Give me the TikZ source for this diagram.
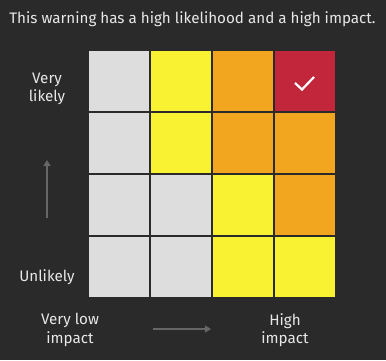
\documentclass[tikz,border=0pt]{standalone}
\usepackage{fontspec}
\setmainfont{Fira Sans}
\usetikzlibrary{arrows.meta}
\definecolor{bg}{HTML}{2A2A2A}
\definecolor{cgrey}{HTML}{DDDDDD}
\definecolor{cyel}{HTML}{F9F232}
\definecolor{corg}{HTML}{F2A51F}
\definecolor{cred}{HTML}{C1263A}
\definecolor{txt}{HTML}{E8E8E8}
\definecolor{arr}{HTML}{666666}
\tikzset{
  cell/.style={minimum width=60pt,minimum height=60pt,inner sep=0pt,draw=none,anchor=north west},
  lab/.style={text=txt,font=\fontsize{15.2}{18.5}\selectfont,align=center,inner sep=0pt},
  axarrow/.style={draw=arr,line width=1.3pt,-{Triangle[length=6pt,width=7pt]}}
}
\begin{document}
\begin{tikzpicture}[x=1pt,y=-1pt]
\fill[bg] (0,0) rectangle (386,360);
\useasboundingbox (0,0) rectangle (386,360);
\node[lab] (title) at (192.5,19) {This warning has a high likelihood and a high impact.};
% row 1
\node[cell,fill=cgrey] (c11) at (89,51) {};
\node[cell,fill=cyel] (c12) at (151,51) {};
\node[cell,fill=corg] (c13) at (213,51) {};
\node[cell,fill=cred] (c14) at (275,51) {};
% row 2
\node[cell,fill=cgrey] (c21) at (89,113) {};
\node[cell,fill=cyel] (c22) at (151,113) {};
\node[cell,fill=corg] (c23) at (213,113) {};
\node[cell,fill=corg] (c24) at (275,113) {};
% row 3
\node[cell,fill=cgrey] (c31) at (89,175) {};
\node[cell,fill=cgrey] (c32) at (151,175) {};
\node[cell,fill=cyel] (c33) at (213,175) {};
\node[cell,fill=corg] (c34) at (275,175) {};
% row 4
\node[cell,fill=cgrey] (c41) at (89,237) {};
\node[cell,fill=cgrey] (c42) at (151,237) {};
\node[cell,fill=cyel] (c43) at (213,237) {};
\node[cell,fill=cyel] (c44) at (275,237) {};
% check mark
\draw[white,line width=2.2pt] (295,83) -- (302,89.5) -- (314,77);
% y axis
\node[lab] (vlikely) at (47,89) {Very\\likely};
\node[lab] (unlikely) at (47,277) {Unlikely};
\coordinate (ya) at (47,218);
\coordinate (yb) at (47,160);
\draw[axarrow] (ya) -- (yb);
% x axis
\node[lab] (vlow) at (70,330) {Very low\\impact};
\node[lab] (high) at (285,330) {High\\impact};
\coordinate (xa) at (153,329);
\coordinate (xb) at (211,329);
\draw[axarrow] (xa) -- (xb);
\end{tikzpicture}
\end{document}
